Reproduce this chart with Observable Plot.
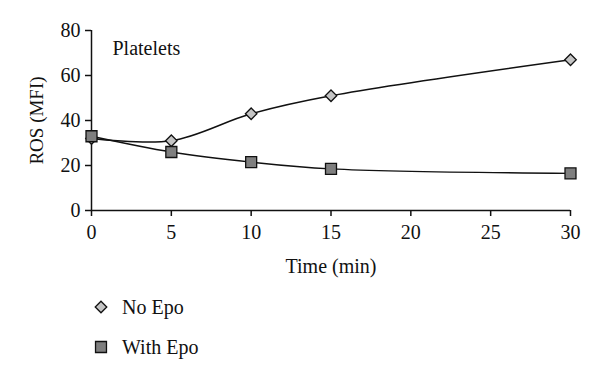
<!DOCTYPE html>
<html>
<head>
<meta charset="utf-8">
<script src="https://cdn.jsdelivr.net/npm/d3@7"></script>
<script src="https://cdn.jsdelivr.net/npm/@observablehq/plot@0.6"></script>
<style>
  html, body { margin: 0; padding: 0; background: #fff; }
  body { width: 600px; height: 380px; overflow: hidden; font-family: "Liberation Serif", "DejaVu Serif", serif; }
  #legend { margin-left: 93px; font-size: 20px; color: #111; }
  .item { display: flex; align-items: center; height: 40px; }
  .item svg { margin-right: 13px; }
</style>
</head>
<body>
<div id="chart"></div>
<div id="legend"></div>
<script>
const times = [0, 5, 10, 15, 30];
const noEpo = [32, 31, 43, 51, 67];
const withEpo = [33, 26, 21.5, 18.5, 16.5];
const seriesNames = ["No Epo", "With Epo"];
const xTicks = [0, 5, 10, 15, 20, 25, 30];
const yTicks = [0, 20, 40, 60, 80];

const rows = [
  ...times.map((t, i) => ({time: t, value: noEpo[i], series: seriesNames[0]})),
  ...times.map((t, i) => ({time: t, value: withEpo[i], series: seriesNames[1]}))
];
const noRows = rows.filter(d => d.series === seriesNames[0]);
const withRows = rows.filter(d => d.series === seriesNames[1]);

const font = "'Liberation Serif', 'DejaVu Serif', serif";

const plot = Plot.plot({
  width: 600,
  height: 284,
  marginLeft: 91,
  marginRight: 30,
  marginTop: 30,
  marginBottom: 74,
  style: {fontFamily: font, fontSize: "20px", color: "#111", background: "#fff"},
  x: {domain: [0, 30]},
  y: {domain: [0, 80]},
  marks: [
    Plot.axisX({ticks: xTicks, tickSize: 6, tickPadding: 8, fontSize: 20, label: "Time (min)", labelAnchor: "center", labelArrow: "none", labelOffset: 62, stroke: "#111", strokeWidth: 1.5}),
    Plot.axisY({ticks: yTicks, tickSize: 6, tickPadding: 5, fontSize: 20, label: null, stroke: "#111", strokeWidth: 1.5}),
    Plot.axisY({ticks: [], label: "ROS (MFI)", labelAnchor: "center", labelArrow: "none", labelOffset: 62, fontSize: 19}),
    Plot.ruleX([0], {stroke: "#111", strokeWidth: 1.5}),
    Plot.ruleY([0], {stroke: "#111", strokeWidth: 1.5}),
    Plot.line(noRows, {x: "time", y: "value", curve: "catmull-rom", stroke: "#111", strokeWidth: 1.5}),
    Plot.line(withRows, {x: "time", y: "value", curve: "catmull-rom", stroke: "#111", strokeWidth: 1.5}),
    Plot.dot(noRows, {x: "time", y: "value", symbol: "diamond2", r: 5.2, fill: "#c4c4c4", stroke: "#111", strokeWidth: 1.3}),
    Plot.dot(withRows, {x: "time", y: "value", symbol: "square", r: 6.2, fill: "#7f7f7f", stroke: "#111", strokeWidth: 1.3}),
    Plot.text(["Platelets"], {frameAnchor: "top-left", dx: 21, dy: 10, textAnchor: "start", fontSize: 20, fill: "#111"})
  ]
});
document.getElementById("chart").appendChild(plot);

// Legend (HTML below the SVG)
const legend = d3.select("#legend");
const symbols = [
  {name: seriesNames[0], sym: d3.symbolDiamond2, size: 85, fill: "#c4c4c4"},
  {name: seriesNames[1], sym: d3.symbolSquare, size: 120, fill: "#7f7f7f"}
];
symbols.forEach((s, i) => {
  const it = legend.append("div").attr("class", "item");
  if (i === 0) it.style("margin-top", "3px");
  const svg = it.append("svg").attr("width", 16).attr("height", 16);
  svg.append("path")
    .attr("transform", "translate(8,8)")
    .attr("d", d3.symbol(s.sym, s.size)())
    .attr("fill", s.fill).attr("stroke", "#111").attr("stroke-width", 1.3);
  it.append("span").text(s.name);
});
</script>
</body>
</html>
